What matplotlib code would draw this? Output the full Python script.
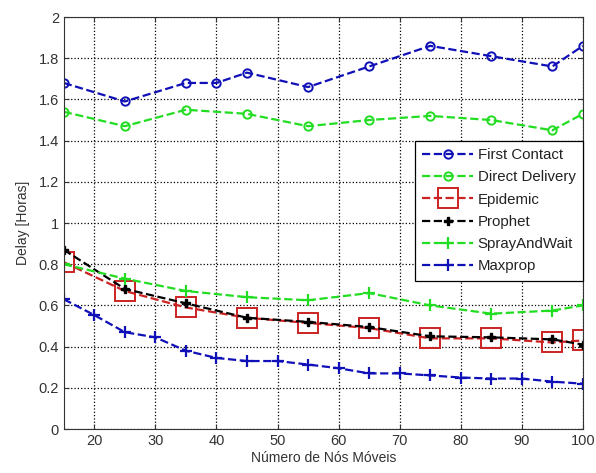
import matplotlib.pyplot as plt
import numpy as np

plt.rcParams['font.family'] = ['Liberation Sans', 'DejaVu Sans']

# dados
x_fc = [15, 25, 35, 40, 45, 55, 65, 75, 85, 95, 100]
first_contact = [1.68, 1.59, 1.68, 1.68, 1.73, 1.66, 1.76, 1.86, 1.81, 1.76, 1.86]

x_10 = [15, 25, 35, 45, 55, 65, 75, 85, 95, 100]
direct_delivery = [1.54, 1.47, 1.55, 1.53, 1.47, 1.50, 1.52, 1.50, 1.45, 1.53]
epidemic = [0.81, 0.67, 0.59, 0.54, 0.515, 0.49, 0.44, 0.44, 0.42, 0.43]
prophet = [0.87, 0.68, 0.61, 0.54, 0.52, 0.495, 0.45, 0.445, 0.435, 0.41]
spray_and_wait = [0.80, 0.73, 0.67, 0.64, 0.625, 0.66, 0.60, 0.56, 0.575, 0.60]

x_mp = [15, 20, 25, 30, 35, 40, 45, 50, 55, 60, 65, 70, 75, 80, 85, 90, 95, 100]
maxprop = [0.63, 0.553, 0.47, 0.445, 0.38, 0.345, 0.33, 0.33, 0.313, 0.295, 0.27, 0.27,
           0.26, 0.25, 0.245, 0.245, 0.23, 0.22]

azul = '#1010b8'
verde = '#22dd22'
vermelho = '#cc2222'

fig = plt.figure(figsize=(5.96, 4.73), dpi=100)
ax = fig.add_axes([0.107, 0.093, 0.871, 0.871])

ax.plot(x_fc, first_contact, '--', color=azul, lw=1.6, marker='o', ms=6,
        mfc='none', mew=1.4, label='First Contact')
ax.plot(x_10, direct_delivery, '--', color=verde, lw=1.6, marker='o', ms=6,
        mfc='none', mew=1.4, label='Direct Delivery')
ax.plot(x_10, epidemic, '--', color=vermelho, lw=1.6, marker='s', ms=15,
        mfc='none', mew=1.4, label='Epidemic')
ax.plot(x_10, prophet, '--', color='black', lw=1.6, marker='P', ms=6,
        label='Prophet')
ax.plot(x_10, spray_and_wait, '--', color=verde, lw=1.6, marker='+', ms=9,
        mew=1.6, label='SprayAndWait')
ax.plot(x_mp, maxprop, '--', color=azul, lw=1.6, marker='+', ms=9,
        mew=1.6, label='Maxprop')

ax.set_xlim(15, 100)
ax.set_ylim(0, 2)
ax.set_xticks(np.arange(20, 101, 10))
ax.set_yticks([0, 0.2, 0.4, 0.6, 0.8, 1, 1.2, 1.4, 1.6, 1.8, 2])
ax.set_yticklabels(['0', '0.2', '0.4', '0.6', '0.8', '1', '1.2', '1.4', '1.6', '1.8', '2'])
ax.grid(True, linestyle=':', color='black', lw=0.9)
ax.tick_params(direction='in', top=True, right=True, labelsize=10.5, colors='#333333')
for s in ax.spines.values():
    s.set_color('#333333')

ax.set_xlabel('Número de Nós Móveis', fontsize=10, color='#333333', labelpad=2)
ax.set_ylabel('Delay [Horas]', fontsize=10, color='#333333', labelpad=6)

leg = ax.legend(loc='upper right', bbox_to_anchor=(1.0, 0.70), fontsize=10.8,
                fancybox=False, framealpha=1, edgecolor='black',
                handlelength=3.4, handletextpad=0.3, borderpad=0.5,
                borderaxespad=0, labelspacing=0.55)
leg.get_frame().set_linewidth(0.9)
for t in leg.get_texts():
    t.set_color('#222222')

fig.savefig('out.png', dpi=100)
